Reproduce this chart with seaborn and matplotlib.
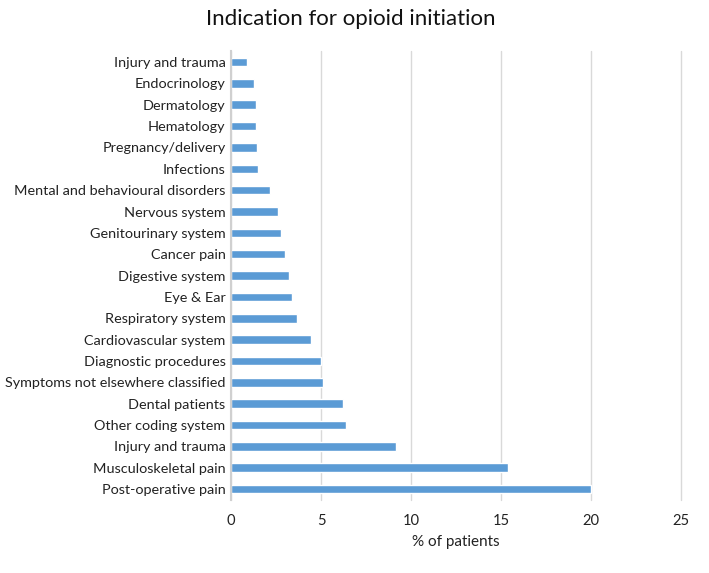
import matplotlib
matplotlib.use("Agg")
import matplotlib.pyplot as plt
import seaborn as sns
import pandas as pd

categories = [
    "Injury and trauma", "Endocrinology", "Dermatology", "Hematology",
    "Pregnancy/delivery", "Infections", "Mental and behavioural disorders",
    "Nervous system", "Genitourinary system", "Cancer pain", "Digestive system",
    "Eye & Ear", "Respiratory system", "Cardiovascular system",
    "Diagnostic procedures", "Symptoms not elsewhere classified",
    "Dental patients", "Other coding system", "Injury and trauma",
    "Musculoskeletal pain", "Post-operative pain",
]
values = [0.9, 1.3, 1.4, 1.4, 1.47, 1.5, 2.14, 2.63, 2.76, 3.0, 3.22,
          3.41, 3.67, 4.45, 5.0, 5.12, 6.2, 6.39, 9.19, 15.4, 20.0]
xticks = [0, 5, 10, 15, 20, 25]

sns.set_theme(style="white")
plt.rcParams["font.family"] = ["Lato", "DejaVu Sans"]

df = pd.DataFrame({"key": [str(i) for i in range(len(categories))],
                   "label": categories, "value": values})

fig = plt.figure(figsize=(7.09, 5.73), dpi=100)
ax = fig.add_axes([231 / 709, 1 - 499.7 / 573, (681 - 231) / 709, (499.7 - 51.4) / 573])
sns.barplot(data=df, x="value", y="key", orient="h", color="#5B9BD5",
            width=0.4, saturation=1, ax=ax)
ax.set_yticks(range(len(categories)))
ax.set_yticklabels(categories, fontsize=10.4, color="#222222")
ax.set_xlim(0, 25)
ax.set_xticks(xticks)
ax.set_xticklabels([str(t) for t in xticks], fontsize=10.6, color="#222222")
ax.tick_params(axis="both", length=0)
ax.tick_params(axis="y", pad=4)
ax.tick_params(axis="x", pad=10)
ax.grid(axis="x", color="#D9D9D9", linewidth=1)
for gl in ax.get_xgridlines():
    gl.set_clip_on(False)
ax.set_axisbelow(True)
for side in ["top", "right", "bottom"]:
    ax.spines[side].set_visible(False)
ax.spines["left"].set_color("#D0D0D0")
ax.spines["left"].set_linewidth(1.5)
ax.set_ylabel("")
ax.set_xlabel("% of patients", fontsize=11, color="#222222", labelpad=5)
fig.suptitle("Indication for opioid initiation", fontsize=16, x=351 / 709, y=0.985,
             va="top", color="#111111")
fig.savefig("out.png", dpi=100, facecolor="white")
